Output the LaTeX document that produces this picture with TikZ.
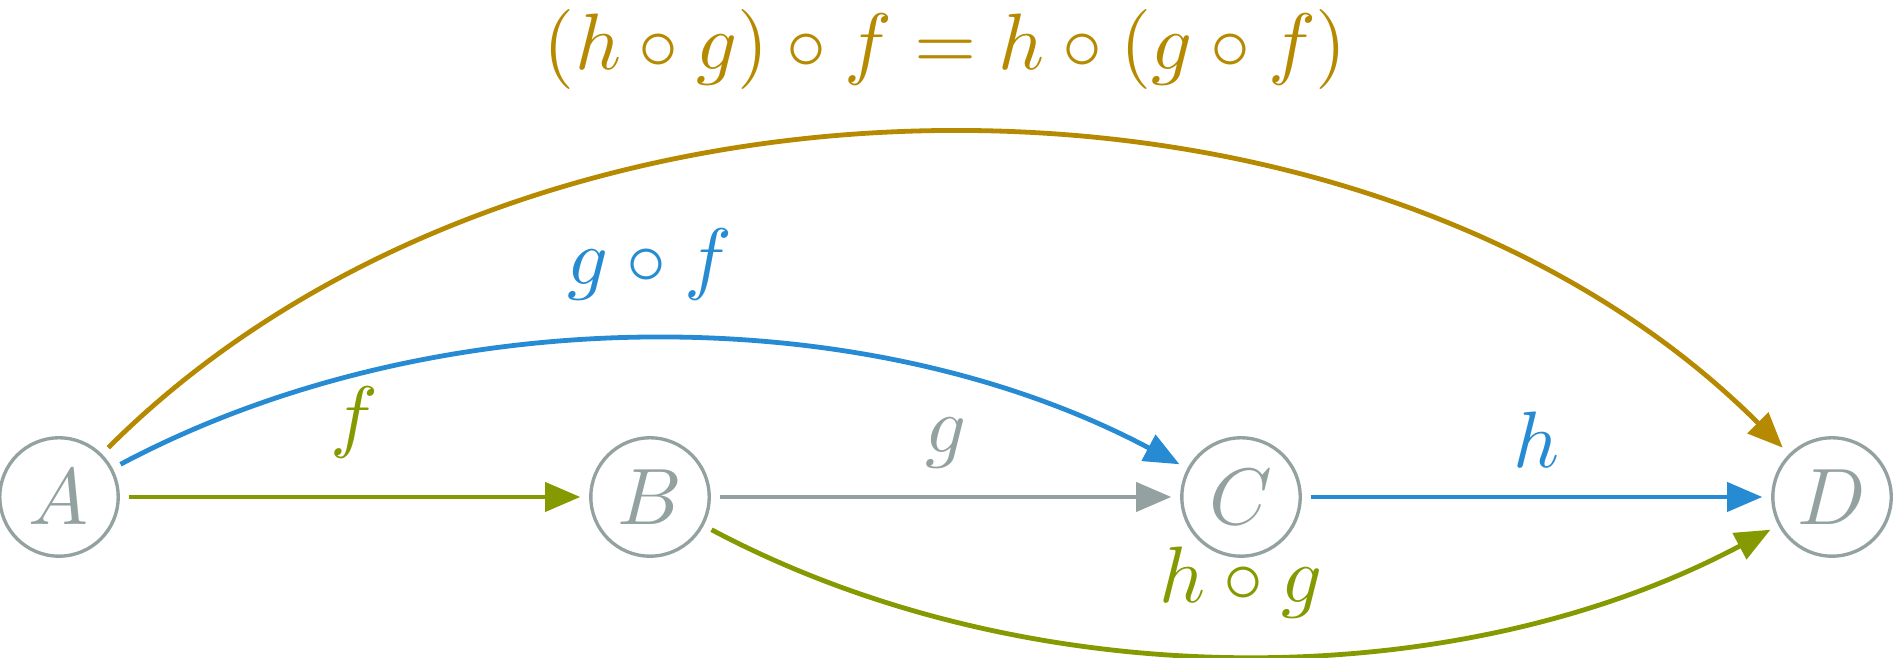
\documentclass[tikz,border=0pt]{standalone}
\usetikzlibrary{arrows.meta}
\definecolor{sgray}{HTML}{93A1A1}
\definecolor{sblue}{HTML}{268BD2}
\definecolor{sgreen}{HTML}{859900}
\definecolor{syellow}{HTML}{B58900}
\begin{document}
\begin{tikzpicture}[x=0.125pt,y=-0.125pt,
  obj/.style={circle,draw=sgray,line width=0.42pt,minimum size=14.8pt,inner sep=0pt,text=sgray},
  arr/.style={line width=0.6pt,-{Triangle[length=4.4pt,width=3.6pt]},shorten <=1.1pt,shorten >=1.1pt}]
\useasboundingbox (0,0) rectangle (1900,658);
\node[obj] (A) at (59,497) {$A$};
\node[obj] (B) at (650,497) {$B$};
\node[obj] (C) at (1241,497) {$C$};
\node[obj] (D) at (1832,497) {$D$};
\draw[arr,sgreen] (A) -- node[above=1.23pt] {$f$} (B);
\draw[arr,sgray] (B) -- node[above] {$g$} (C);
\draw[arr,sblue] (C) -- node[above] {$h$} (D);
\draw[arr,sblue] (A) to[bend left=28,looseness=0.87] node[midway,above=1.42pt] {$g\circ f$} (C);
\draw[arr,sgreen] (B) to[bend right=28,looseness=0.875] node[midway,above=0.92pt] {$h\circ g$} (D);
\draw[arr,syellow] (A) to[bend left=45,looseness=0.914] node[midway,above=2.1pt] {$(h\circ g)\circ f = h\circ(g\circ f)$} (D);
\end{tikzpicture}
\end{document}
